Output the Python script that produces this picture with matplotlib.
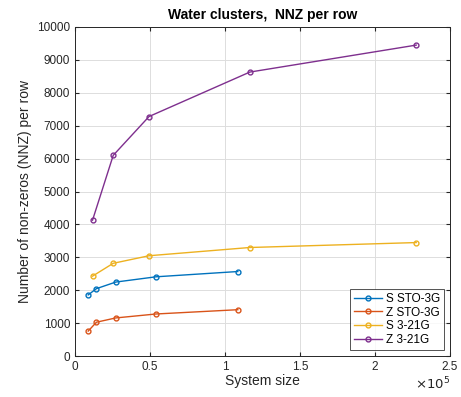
import matplotlib
matplotlib.use("Agg")
import matplotlib.pyplot as plt
from matplotlib.ticker import FuncFormatter, MultipleLocator

plt.rcParams["font.family"] = ["Liberation Sans", "DejaVu Sans"]

# values
s_sto_x = [8700, 14200, 27100, 54000, 108500]
s_sto_y = [1860, 2050, 2250, 2410, 2570]
z_sto_x = [8700, 14200, 27100, 54000, 108500]
z_sto_y = [760, 1030, 1160, 1280, 1410]
s_321_x = [11600, 25400, 49300, 116500, 227500]
s_321_y = [2430, 2820, 3050, 3300, 3450]
z_321_x = [11600, 25400, 49300, 116500, 227500]
z_321_y = [4130, 6100, 7280, 8630, 9450]

SERIES = [
    ("S STO-3G", s_sto_x, s_sto_y, "#0072BD"),
    ("Z STO-3G", z_sto_x, z_sto_y, "#D95319"),
    ("S 3-21G", s_321_x, s_321_y, "#EDB120"),
    ("Z 3-21G", z_321_x, z_321_y, "#7E2F8E"),
]


def main() -> None:
    fig = plt.figure(figsize=(4.61, 3.97), dpi=100)
    ax = fig.add_axes([0.163, 0.103, 0.813, 0.829])

    for label, xs, ys, col in SERIES:
        ax.plot(xs, ys, "-o", color=col, lw=1.0, ms=3.5, mfc="none", mew=1.0, label=label)

    ax.set_xlim(0, 2.5e5)
    ax.set_ylim(0, 10000)
    ax.xaxis.set_major_locator(MultipleLocator(0.5e5))
    ax.yaxis.set_major_locator(MultipleLocator(1000))
    ax.xaxis.set_major_formatter(FuncFormatter(lambda v, p: f"{v / 1e5:g}"))
    ax.grid(True, color="#dddddd", lw=0.7)
    ax.set_axisbelow(True)
    ax.tick_params(direction="in", length=3, labelsize=8.5, top=True, right=True,
                   colors="#262626", labelcolor="#262626")
    for sp in ax.spines.values():
        sp.set_color("#262626")
        sp.set_linewidth(0.7)

    ax.set_xlabel("System size", fontsize=10, color="#262626", labelpad=1)
    ax.set_ylabel("Number of non-zeros (NNZ) per row", fontsize=10, color="#262626", labelpad=4)
    ax.set_title("Water clusters,  NNZ per row", fontsize=10, fontweight="bold", pad=6)
    ax.text(1.0, -0.06, r"$\times10^{5}$", transform=ax.transAxes, ha="right", va="top",
            fontsize=9.5, color="#262626")

    leg = ax.legend(loc="lower right", fontsize=8.5, frameon=True, fancybox=False,
                    borderpad=0.35, labelspacing=0.15, handlelength=2.4, handletextpad=0.3,
                    borderaxespad=0.5)
    leg.get_frame().set_edgecolor("#262626")
    leg.get_frame().set_linewidth(0.7)

    fig.savefig("out.png", dpi=100)
    plt.close(fig)


if __name__ == "__main__":
    main()
